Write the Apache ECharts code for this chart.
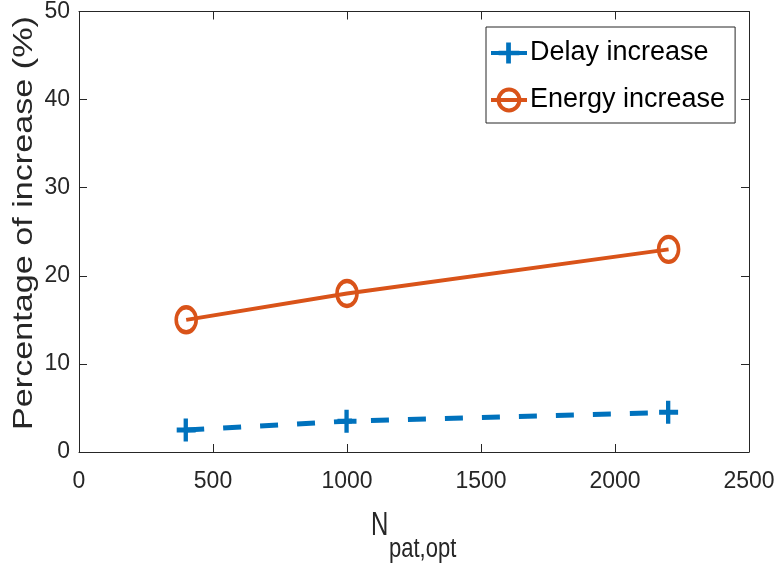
<!DOCTYPE html>
<html>
<head>
<meta charset="utf-8">
<style>
  html, body { margin: 0; padding: 0; background: #fff; }
  #chart { width: 778px; height: 565px; }
</style>
<script src="https://cdn.jsdelivr.net/npm/echarts@6/dist/echarts.min.js"></script>
</head>
<body>
<div id="chart"></div>
<script>
// Pattern counts on the x axis
const nPatOpt = [400, 1000, 2200];
// Percentage increases for each series
const delayIncrease = [2.5, 3.5, 4.5];
const energyIncrease = [15, 18, 23];
// Axis ranges and tick steps
const xRange = [0, 2500], xStep = 500;
const yRange = [0, 50], yStep = 10;

const FONT = '"Liberation Sans", Arial, Helvetica, sans-serif';
const AXIS_COLOR = '#262626';
const BLUE = '#0072BD';
const ORANGE = '#D95319';

// Plus marker and ellipse-capable ring marker
const plusPath = 'path://M8,0h5v9h9v5h-9v9h-5v-9h-8v-5h8z';
const ringPath = 'path://M0,10A10,10,0,1,1,20,10A10,10,0,1,1,0,10Z';

const chart = echarts.init(document.getElementById('chart'), null, { renderer: 'canvas' });

const baseAxis = {
  axisLine: { show: true, onZero: false, lineStyle: { color: AXIS_COLOR, width: 1 } },
  axisTick: { show: true, inside: true, length: 8, lineStyle: { color: AXIS_COLOR, width: 1 } },
  splitLine: { show: false }
};
const plainNumber = v => String(v);

const option = {
  animation: false,
  backgroundColor: '#fff',
  grid: { left: 79, right: 29, top: 8, bottom: 113, containLabel: false },
  xAxis: [
    Object.assign({}, baseAxis, {
      type: 'value', min: xRange[0], max: xRange[1], interval: xStep, position: 'bottom',
      axisLabel: { color: '#262626', fontSize: 23, fontFamily: FONT, margin: 18, formatter: plainNumber }
    }),
    Object.assign({}, baseAxis, {
      type: 'value', min: xRange[0], max: xRange[1], interval: xStep, position: 'top',
      axisLabel: { show: false }
    })
  ],
  yAxis: [
    Object.assign({}, baseAxis, {
      type: 'value', min: yRange[0], max: yRange[1], interval: yStep, position: 'left',
      axisLabel: { color: '#262626', fontSize: 23, fontFamily: FONT, margin: 9, formatter: plainNumber }
    }),
    Object.assign({}, baseAxis, {
      type: 'value', min: yRange[0], max: yRange[1], interval: yStep, position: 'right',
      axisLabel: { show: false }
    })
  ],
  legend: {
    orient: 'vertical',
    left: 486, top: 27,
    padding: [11, 10, 8, 3],
    itemGap: 17,
    itemWidth: 36, itemHeight: 26,
    backgroundColor: '#fff',
    borderColor: '#262626', borderWidth: 1,
    lineStyle: { width: 4 },
    textStyle: { color: '#000', fontSize: 27, fontFamily: FONT, lineHeight: 30, padding: [0, 0, 0, -2] },
    data: [
      { name: 'Delay increase', lineStyle: { type: 'solid', width: 4 } },
      { name: 'Energy increase', lineStyle: { width: 4 }, itemStyle: { borderWidth: 4 } }
    ]
  },
  series: [
    {
      name: 'Delay increase',
      type: 'line',
      data: nPatOpt.map((x, i) => [x, delayIncrease[i]]),
      symbol: plusPath,
      symbolSize: [19, 23],
      showAllSymbol: true,
      lineStyle: { color: BLUE, width: 5, type: [18, 19] },
      itemStyle: { color: BLUE, borderWidth: 0 },
      z: 3
    },
    {
      name: 'Energy increase',
      type: 'line',
      data: nPatOpt.map((x, i) => [x, energyIncrease[i]]),
      symbol: ringPath,
      symbolSize: [20, 25],
      showAllSymbol: true,
      lineStyle: { color: ORANGE, width: 4 },
      itemStyle: { color: 'rgba(0,0,0,0)', borderColor: ORANGE, borderWidth: 4 },
      z: 3
    }
  ],
  graphic: [
    {
      type: 'text',
      x: 10, y: 430,
      rotation: Math.PI / 2,
      scaleX: 1.22,
      style: { text: 'Percentage of increase (%)', fontSize: 28, fontFamily: FONT, fill: '#262626',
               textAlign: 'left', textVerticalAlign: 'top' }
    },
    {
      type: 'text',
      x: 371, y: 542,
      scaleY: 1.35,
      style: { text: 'N', fontSize: 24, fontFamily: FONT, fill: '#262626',
               textAlign: 'left', textVerticalAlign: 'bottom' }
    },
    {
      type: 'text',
      x: 389, y: 563,
      scaleY: 1.25,
      style: { text: 'pat,opt', fontSize: 22, fontFamily: FONT, fill: '#262626',
               textAlign: 'left', textVerticalAlign: 'bottom' }
    }
  ]
};

chart.setOption(option);
</script>
</body>
</html>
